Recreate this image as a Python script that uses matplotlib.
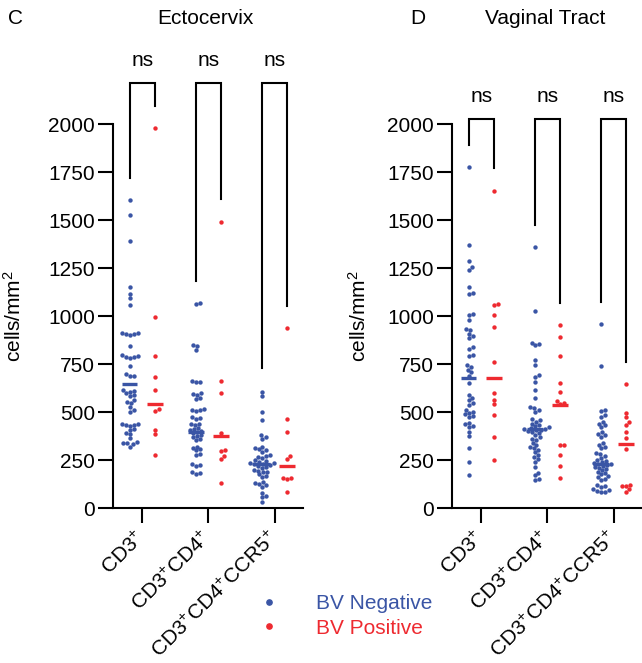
import numpy as np
import matplotlib

matplotlib.use("Agg")
import matplotlib.pyplot as plt
from matplotlib.lines import Line2D

plt.rcParams["font.family"] = ["Liberation Sans", "DejaVu Sans"]
plt.rcParams["mathtext.default"] = "regular"

BLUE = "#3A55A5"
RED = "#EE2A30"

categories = ["CD3$^{+}$", "CD3$^{+}$CD4$^{+}$", "CD3$^{+}$CD4$^{+}$CCR5$^{+}$"]
y_ticks = [0, 250, 500, 750, 1000, 1250, 1500, 1750, 2000]

# Ectocervix (cells/mm2)
ecto_neg_cd3 = [1604, 1528, 1389, 1151, 1116, 1095, 1057, 912, 910, 908, 905, 900, 844, 795, 790, 788,
                785, 780, 741, 700, 690, 685, 615, 610, 605, 600, 588, 585, 560, 552, 545, 526, 510, 500,
                440, 435, 432, 430, 428, 410, 405, 390, 385, 365, 345, 340, 338, 335, 320]
ecto_pos_cd3 = [1977, 997, 792, 684, 615, 515, 505, 406, 385, 276]
ecto_neg_cd4 = [1070, 1060, 850, 845, 825, 660, 658, 655, 600, 595, 590, 575, 570, 515, 512, 508, 505,
                475, 470, 465, 440, 435, 430, 415, 410, 405, 400, 395, 390, 380, 375, 370, 360, 355, 320,
                315, 305, 300, 280, 275, 230, 225, 220, 185, 180, 175]
ecto_pos_cd4 = [1488, 663, 601, 392, 302, 295, 270, 255, 130]
ecto_neg_ccr5 = [606, 585, 502, 458, 380, 370, 360, 320, 310, 305, 300, 290, 276, 270, 265, 260, 250,
                 245, 240, 235, 232, 230, 228, 225, 220, 215, 210, 200, 195, 190, 185, 175, 165, 160,
                 135, 130, 125, 120, 110, 78, 65, 57, 31]
ecto_pos_ccr5 = [936, 463, 398, 271, 255, 158, 155, 152, 85]
ecto_med_neg = [644, 398, 229]
ecto_med_pos = [540, 373, 220]
ecto_leg_neg = [1720, 1182, 729]
ecto_leg_pos = [2095, 1609, 1052]
ecto_bracket_top = 2213
ecto_ns_y = 2333

# Vaginal tract (cells/mm2)
vag_neg_cd3 = [1774, 1370, 1286, 1255, 1240, 1153, 1120, 1115, 1010, 1005, 979, 932, 925, 906, 895, 885,
               838, 830, 797, 790, 745, 735, 720, 708, 690, 651, 588, 575, 560, 545, 536, 510, 500, 495,
               490, 480, 474, 443, 435, 425, 422, 396, 375, 312, 240, 172]
vag_pos_cd3 = [1651, 1064, 1055, 1005, 944, 762, 601, 563, 542, 484, 368, 250]
vag_neg_cd4 = [1361, 1026, 861, 855, 849, 771, 745, 693, 682, 658, 615, 573, 526, 520, 510, 500, 465,
               458, 450, 440, 430, 425, 420, 415, 412, 410, 408, 405, 400, 395, 390, 380, 370, 360, 354,
               340, 328, 320, 310, 302, 290, 276, 265, 255, 240, 215, 182, 170, 150, 146]
vag_pos_cd4 = [953, 892, 793, 651, 606, 555, 545, 540, 328, 328, 276, 219, 158]
vag_neg_ccr5 = [958, 740, 510, 505, 484, 474, 448, 440, 430, 422, 396, 385, 378, 370, 339, 330, 320, 312,
                286, 280, 270, 260, 250, 245, 240, 235, 230, 228, 225, 220, 215, 210, 205, 198, 190, 182,
                175, 165, 160, 150, 146, 120, 115, 110, 100, 95, 90, 85, 83]
vag_pos_ccr5 = [646, 495, 474, 448, 432, 398, 366, 305, 120, 116, 112, 97, 83]
vag_med_neg = [675, 411, 228]
vag_med_pos = [679, 536, 335]
vag_leg_neg = [1890, 1474, 1073]
vag_leg_pos = [1771, 1068, 760]
vag_bracket_top = 2025
vag_ns_y = 2145

W, H = 642, 663
AX_W, AX_H = 190, 384
XLIM = (-0.44, 2.43)
OFFSET = 0.19
PX_X = AX_W / (XLIM[1] - XLIM[0])
PX_Y = AX_H / 2000
DOT_D = 3.9


def swarm(values):
    """Simple beeswarm offsets (in data units along x)."""
    vals = np.asarray(values, dtype=float)
    placed = []
    offs = np.zeros(len(vals))
    cands = [0.0] + [s * j * 0.8 for j in range(1, 40) for s in (1, -1)]
    for i in np.argsort(vals):
        y = vals[i] * PX_Y
        for c in cands:
            if all((c - px) ** 2 + (y - py) ** 2 >= DOT_D ** 2 for px, py in placed):
                break
        placed.append((c, y))
        offs[i] = c / PX_X
    return offs


def draw_panel(ax, neg, pos, med_neg, med_pos, leg_neg, leg_pos, top, ns_y):
    for i, (vn, vp) in enumerate(zip(neg, pos)):
        xn = i - OFFSET
        xp = i + OFFSET
        ax.scatter(xn + swarm(vn), vn, s=10, color=BLUE, linewidths=0, zorder=3, clip_on=False)
        ax.scatter(xp + swarm(vp), vp, s=10, color=RED, linewidths=0, zorder=3, clip_on=False)
        ax.plot([xn - 0.12, xn + 0.12], [med_neg[i]] * 2, color=BLUE, lw=2.4, solid_capstyle="butt", zorder=4)
        ax.plot([xp - 0.12, xp + 0.12], [med_pos[i]] * 2, color=RED, lw=2.4, solid_capstyle="butt", zorder=4)
        ax.plot([xn, xn, xp, xp], [leg_neg[i], top, top, leg_pos[i]], color="black", lw=1.5,
                clip_on=False, solid_joinstyle="miter")
        ax.text(i, ns_y, "ns", ha="center", va="center", fontsize=15)

    ax.set_xlim(*XLIM)
    ax.set_ylim(0, 2000)
    ax.set_yticks(y_ticks)
    ax.set_xticks(range(len(categories)))
    ax.set_xticklabels(categories, rotation=45, ha="right", va="center", rotation_mode="anchor", fontsize=15)
    ax.tick_params(axis="y", length=11, width=1.5, labelsize=15, pad=2)
    ax.tick_params(axis="x", length=11, width=1.5, pad=8)
    for side in ("top", "right"):
        ax.spines[side].set_visible(False)
    for side in ("left", "bottom"):
        ax.spines[side].set_linewidth(1.5)
    ax.set_ylabel("cells/mm$^{2}$", fontsize=15)


fig = plt.figure(figsize=(W / 100, H / 100), dpi=100)
ax1 = fig.add_axes([113 / W, 1 - 508 / H, AX_W / W, AX_H / H])
ax2 = fig.add_axes([452 / W, 1 - 508 / H, AX_W / W, AX_H / H])

draw_panel(ax1, [ecto_neg_cd3, ecto_neg_cd4, ecto_neg_ccr5], [ecto_pos_cd3, ecto_pos_cd4, ecto_pos_ccr5],
           ecto_med_neg, ecto_med_pos, ecto_leg_neg, ecto_leg_pos, ecto_bracket_top, ecto_ns_y)
draw_panel(ax2, [vag_neg_cd3, vag_neg_cd4, vag_neg_ccr5], [vag_pos_cd3, vag_pos_cd4, vag_pos_ccr5],
           vag_med_neg, vag_med_pos, vag_leg_neg, vag_leg_pos, vag_bracket_top, vag_ns_y)
ax1.yaxis.set_label_coords(-88 / AX_W, 0.5)
ax2.yaxis.set_label_coords(-82 / AX_W, 0.5)

fig.text(8 / W, 1 - 18 / H, "C", fontsize=15, va="center")
fig.text(410 / W, 1 - 18 / H, "D", fontsize=15, va="center")
fig.text(205 / W, 1 - 18 / H, "Ectocervix", fontsize=15, ha="center", va="center")
fig.text(545 / W, 1 - 18 / H, "Vaginal Tract", fontsize=15, ha="center", va="center")

handles = [Line2D([], [], marker="o", ls="", color=BLUE, ms=3.8),
           Line2D([], [], marker="o", ls="", color=RED, ms=3.8)]
leg = fig.legend(handles, ["BV Negative", "BV Positive"], loc="center left", bbox_to_anchor=(240 / W, 1 - 616 / H),
                 frameon=False, fontsize=15, handlelength=1.0, handletextpad=1.75, labelspacing=0.25)
for t, c in zip(leg.get_texts(), (BLUE, RED)):
    t.set_color(c)

fig.savefig("out.png", dpi=100, facecolor="white")
